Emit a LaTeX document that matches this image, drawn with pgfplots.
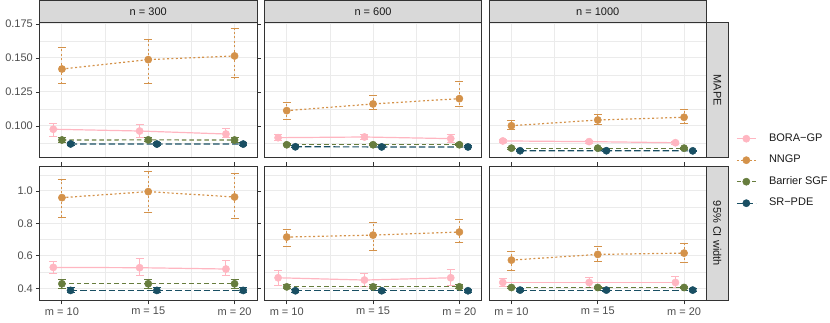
\documentclass[border=0pt]{standalone}
\usepackage{pgfplots}
\usepackage{pgfplotstable}
\pgfplotsset{compat=1.18}
\usepackage{fontspec}
\setmainfont{Liberation Sans}

\definecolor{boracol}{HTML}{FFB6C1}
\definecolor{nngpcol}{HTML}{D4924A}
\definecolor{sgfcol}{HTML}{677D3E}
\definecolor{srcol}{HTML}{194F63}
\definecolor{grey10}{HTML}{1A1A1A}
\definecolor{grey20}{HTML}{333333}
\definecolor{grey30}{HTML}{4D4D4D}
\definecolor{stripfill}{HTML}{D9D9D9}
\definecolor{gridcol}{HTML}{EBEBEB}

\newcommand\gfont{\fontsize{11bp}{13.2bp}\selectfont}

% m, then estimate / lower / upper for BORA-GP, NNGP, Barrier SGF, SR-PDE
\pgfplotstableread{
m bo bol boh nn nnl nnh sg sgl sgh sr srl srh
1 0.0976 0.0926 0.1020 0.1419 0.1311 0.1579 0.0897 0.0882 0.0912 0.0868 0.0857 0.0879
2 0.0963 0.0917 0.1012 0.1488 0.1316 0.1635 0.0898 0.0883 0.0913 0.0867 0.0856 0.0878
3 0.0941 0.0917 0.0985 0.1515 0.1353 0.1718 0.0897 0.0882 0.0912 0.0867 0.0856 0.0878
}\mapeA
\pgfplotstableread{
m bo bol boh nn nnl nnh sg sgl sgh sr srl srh
1 0.0914 0.0895 0.0934 0.1113 0.1051 0.1171 0.0862 0.0853 0.0871 0.0847 0.0840 0.0854
2 0.0919 0.0897 0.0939 0.1162 0.1118 0.1221 0.0862 0.0853 0.0871 0.0846 0.0839 0.0853
3 0.0907 0.0882 0.0936 0.1201 0.1142 0.1326 0.0862 0.0853 0.0871 0.0846 0.0839 0.0853
}\mapeB
\pgfplotstableread{
m bo bol boh nn nnl nnh sg sgl sgh sr srl srh
1 0.0890 0.0879 0.0901 0.1002 0.0971 0.1037 0.0837 0.0830 0.0844 0.0818 0.0812 0.0824
2 0.0885 0.0874 0.0896 0.1044 0.1012 0.1083 0.0837 0.0830 0.0844 0.0818 0.0812 0.0824
3 0.0877 0.0866 0.0888 0.1064 0.1020 0.1118 0.0837 0.0830 0.0844 0.0817 0.0811 0.0823
}\mapeC
\pgfplotstableread{
m bo bol boh nn nnl nnh sg sgl sgh sr srl srh
1 0.529 0.490 0.564 0.959 0.835 1.068 0.428 0.400 0.457 0.387 0.372 0.402
2 0.527 0.480 0.582 0.996 0.866 1.119 0.428 0.400 0.457 0.387 0.372 0.402
3 0.519 0.480 0.570 0.963 0.831 1.105 0.428 0.400 0.457 0.387 0.372 0.402
}\ciA
\pgfplotstableread{
m bo bol boh nn nnl nnh sg sgl sgh sr srl srh
1 0.465 0.420 0.508 0.716 0.660 0.765 0.409 0.397 0.421 0.385 0.376 0.394
2 0.451 0.409 0.494 0.728 0.636 0.807 0.409 0.397 0.421 0.385 0.376 0.394
3 0.465 0.420 0.519 0.747 0.683 0.823 0.409 0.397 0.421 0.385 0.376 0.394
}\ciB
\pgfplotstableread{
m bo bol boh nn nnl nnh sg sgl sgh sr srl srh
1 0.436 0.412 0.458 0.574 0.512 0.625 0.405 0.396 0.414 0.389 0.381 0.397
2 0.436 0.405 0.467 0.609 0.564 0.656 0.405 0.396 0.414 0.389 0.381 0.397
3 0.436 0.405 0.470 0.617 0.558 0.675 0.405 0.396 0.414 0.389 0.381 0.397
}\ciC

\pgfplotsset{
  meth/.style={color=#1, line width=1.2bp, mark=*, mark size=3.6bp,
    mark options={solid, fill=#1, draw=#1, line width=0.5bp},
    error bars/y dir=both, error bars/y explicit, error bars/error mark=|,
    error bars/error bar style={line width=1bp, draw=#1},
    error bars/error mark options={solid, draw=#1, line width=1bp, mark size=4bp}},
  bora/.style={meth=boracol, solid},
  nngp/.style={meth=nngpcol, dash pattern=on 2bp off 2.4bp},
  sgf/.style={meth=sgfcol, dash pattern=on 4.5bp off 3bp},
  srp/.style={meth=srcol, dash pattern=on 6.5bp off 3bp},
  panel/.style={
    scale only axis, width=217.5bp, anchor=north west,
    xmin=0.74, xmax=3.26,
    xtick={1,2,3}, minor xtick={1.5,2.5},
    xticklabels={m = 10, m = 15, m = 20},
    grid=both,
    major grid style={draw=gridcol, line width=1bp},
    minor grid style={draw=gridcol, line width=0.5bp},
    axis line style={draw=grey20, line width=0.9bp},
    tick align=outside, major tick length=3.6bp, minor tick length=0pt,
    tick style={draw=grey20, line width=0.9bp},
    tick label style={font=\gfont, color=grey30, inner sep=0pt},
    xticklabel style={yshift=-2.9bp},
    yticklabel style={xshift=-2.9bp},
    /pgf/number format/assume math mode=true,
    legend image code/.code={\draw[mark repeat=2, mark phase=2, ##1]
      plot coordinates {(0bp,0bp) (9.5bp,0bp) (19bp,0bp)};},
  },
  toprow/.style={height=135.3bp, ymin=0.0766, ymax=0.1761,
    ytick={0.100,0.125,0.150,0.175}, minor ytick={0.0875,0.1125,0.1375,0.1625},
    yticklabels={0.100,0.125,0.150,0.175},
    xmajorticks=false, xticklabels={}},
  botrow/.style={height=134.7bp, ymin=0.3236, ymax=1.154,
    ytick={0.4,0.6,0.8,1.0}, minor ytick={0.5,0.7,0.9,1.1},
    yticklabels={0.4,0.6,0.8,1.0}},
  inner/.style={ymajorticks=false, yticklabels={}},
}

\newcommand\drawpanel[1]{%
  \addplot[bora] table[x expr=\thisrow{m}-0.1, y=bo,
    y error plus expr=\thisrow{boh}-\thisrow{bo},
    y error minus expr=\thisrow{bo}-\thisrow{bol}] {#1};
  \addplot[nngp] table[x=m, y=nn,
    y error plus expr=\thisrow{nnh}-\thisrow{nn},
    y error minus expr=\thisrow{nn}-\thisrow{nnl}] {#1};
  \addplot[sgf] table[x=m, y=sg,
    y error plus expr=\thisrow{sgh}-\thisrow{sg},
    y error minus expr=\thisrow{sg}-\thisrow{sgl}] {#1};
  \addplot[srp] table[x expr=\thisrow{m}+0.1, y=sr,
    y error plus expr=\thisrow{srh}-\thisrow{sr},
    y error minus expr=\thisrow{sr}-\thisrow{srl}] {#1};
}

\begin{document}
\begin{tikzpicture}
\useasboundingbox (0,0) rectangle (830bp,-323bp);

\begin{axis}[panel, toprow, at={(39.5bp,-22.5bp)}]
\drawpanel{\mapeA}
\end{axis}
\begin{axis}[panel, toprow, inner, at={(264.3bp,-22.5bp)}]
\drawpanel{\mapeB}
\end{axis}
\begin{axis}[panel, toprow, inner, at={(489bp,-22.5bp)},
  legend style={at={(1.1366,0.18)}, anchor=north west, draw=none, fill=none,
    inner sep=0pt, outer sep=0pt,
    font=\gfont, text=grey10, column sep=12.6bp, row sep=11bp,
    nodes={inner sep=0pt, text height=8bp, text depth=2.5bp}},
  legend cell align=left]
\drawpanel{\mapeC}
\legend{BORA−GP, NNGP, Barrier SGF, SR−PDE}
\end{axis}

\begin{axis}[panel, botrow, at={(39.5bp,-166bp)}]
\drawpanel{\ciA}
\end{axis}
\begin{axis}[panel, botrow, inner, at={(264.3bp,-166bp)}]
\drawpanel{\ciB}
\end{axis}
\begin{axis}[panel, botrow, inner, at={(489bp,-166bp)}]
\drawpanel{\ciC}
\end{axis}

% facet strips
\foreach \x/\lab in {39.5/{n = 300}, 264.3/{n = 600}, 489/{n = 1000}} {
  \draw[grey20, fill=stripfill, line width=0.9bp] (\x bp,-0.5bp) rectangle ++(217.5bp,-22bp);
  \node[text=grey10, font=\gfont] at (\x bp+108.75bp,-11.5bp) {\lab};
}
\draw[grey20, fill=stripfill, line width=0.9bp] (706.5bp,-22.5bp) rectangle (728.3bp,-157.8bp);
\node[text=grey10, font=\gfont, rotate=-90] at (717.4bp,-90.2bp) {MAPE};
\draw[grey20, fill=stripfill, line width=0.9bp] (706.5bp,-166bp) rectangle (728.3bp,-300.7bp);
\node[text=grey10, font=\gfont, rotate=-90] at (717.4bp,-233.4bp) {95\% CI width};
\end{tikzpicture}
\end{document}
